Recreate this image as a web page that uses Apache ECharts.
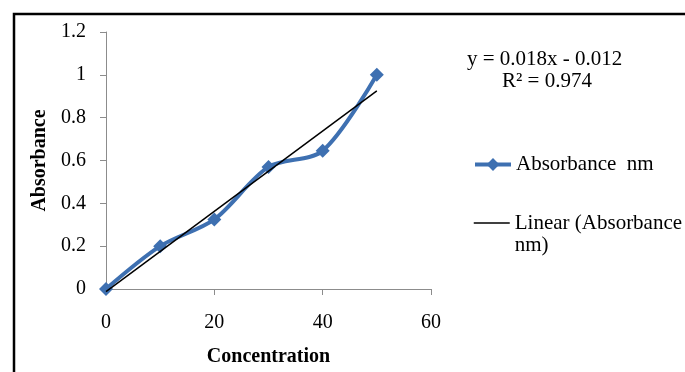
<!DOCTYPE html>
<html>
<head>
<meta charset="utf-8">
<script src="https://cdn.jsdelivr.net/npm/echarts@6/dist/echarts.min.js"></script>
<style>
  html, body { margin: 0; padding: 0; background: #fff; }
  #chart { width: 685px; height: 372px; }
</style>
</head>
<body>
<div id="chart"></div>
<script>
  // data
  let concentration = [0, 10, 20, 30, 40, 50]
  let absorbance = [0, 0.2, 0.325, 0.57, 0.645, 1.0]
  // excel linear trendline ends (x, y)
  let trendX = [0, 50]
  let trendY = [-0.012, 0.925]
  let xTicks = [0, 20, 40, 60]
  let yTicks = [0, 0.2, 0.4, 0.6, 0.8, 1, 1.2]
  let equationText = 'y = 0.018x - 0.012'
  let r2Text = 'R² = 0.974'

  let serif = '"Liberation Serif", "Times New Roman", serif'
  let blue = '#3e70b1'
  let chart = echarts.init(document.getElementById('chart'))

  chart.setOption({
    backgroundColor: '#fff',
    animation: false,
    textStyle: { fontFamily: serif },
    grid: {
      left: 106,
      right: 254,
      top: 32,
      bottom: 79
    },
    xAxis: {
      type: 'value',
      min: xTicks[0],
      max: xTicks[xTicks.length - 1],
      interval: 20,
      name: 'Concentration',
      nameLocation: 'middle',
      nameGap: 58,
      nameTextStyle: { fontFamily: serif, fontSize: 20, fontWeight: 'bold', color: '#000' },
      axisLine: { lineStyle: { color: '#8c8c8c', width: 1 } },
      axisTick: { show: true, inside: false, length: 6, lineStyle: { color: '#8c8c8c' } },
      axisLabel: { fontFamily: serif, fontSize: 20, color: '#000', margin: 24 },
      splitLine: { show: false }
    },
    yAxis: {
      type: 'value',
      min: yTicks[0],
      max: yTicks[yTicks.length - 1],
      interval: 0.2,
      name: 'Absorbance',
      nameLocation: 'middle',
      nameGap: 56,
      nameTextStyle: { fontFamily: serif, fontSize: 20, fontWeight: 'bold', color: '#000' },
      axisLine: { show: true, lineStyle: { color: '#8c8c8c', width: 1 } },
      axisTick: { show: true, inside: false, length: 6, lineStyle: { color: '#8c8c8c' } },
      axisLabel: {
        fontFamily: serif, fontSize: 20, color: '#000', margin: 20,
        formatter: function (v) { return String(Math.round(v * 10) / 10) }
      },
      splitLine: { show: false }
    },
    legend: [{
      data: [{
        name: 'Absorbance  nm',
        lineStyle: { width: 4 }
      }],
      left: 468,
      top: 149,
      itemWidth: 36,
      itemHeight: 16,
      textStyle: { fontFamily: serif, fontSize: 21, color: '#000' }
    }, {
      data: [{
        name: 'Linear (Absorbance nm)',
        itemStyle: { color: 'rgba(0,0,0,0)', borderWidth: 0 },
        lineStyle: { width: 1.5, color: '#000' }
      }],
      left: 468,
      top: 185,
      itemWidth: 36,
      itemHeight: 14,
      // empty first line keeps the icon beside the first text line
      formatter: function () { return ' \nLinear (Absorbance\nnm)' },
      textStyle: { fontFamily: serif, fontSize: 21, lineHeight: 22, color: '#000' }
    }],
    graphic: [{
      type: 'rect',
      shape: { x: 14, y: 14, width: 720, height: 420 },
      style: { fill: 'none', stroke: '#000', lineWidth: 2.5 },
      silent: true
    }, {
      type: 'text',
      left: 467,
      top: 49,
      style: { text: equationText, font: '21px ' + serif, fill: '#000' }
    }, {
      type: 'text',
      left: 502,
      top: 71,
      style: { text: r2Text, font: '21px ' + serif, fill: '#000' }
    }],
    series: [{
      name: 'Absorbance  nm',
      type: 'line',
      data: concentration.map((x, i) => [x, absorbance[i]]),
      smooth: 0.3,
      symbol: 'diamond',
      symbolSize: 14,
      lineStyle: { color: blue, width: 4 },
      itemStyle: { color: blue },
      z: 2
    }, {
      name: 'Linear (Absorbance nm)',
      type: 'line',
      data: trendX.map((x, i) => [x, trendY[i]]),
      symbol: 'none',
      clip: false,
      lineStyle: { color: '#000', width: 1.5 },
      itemStyle: { color: '#000' },
      z: 3
    }]
  })
</script>
</body>
</html>
